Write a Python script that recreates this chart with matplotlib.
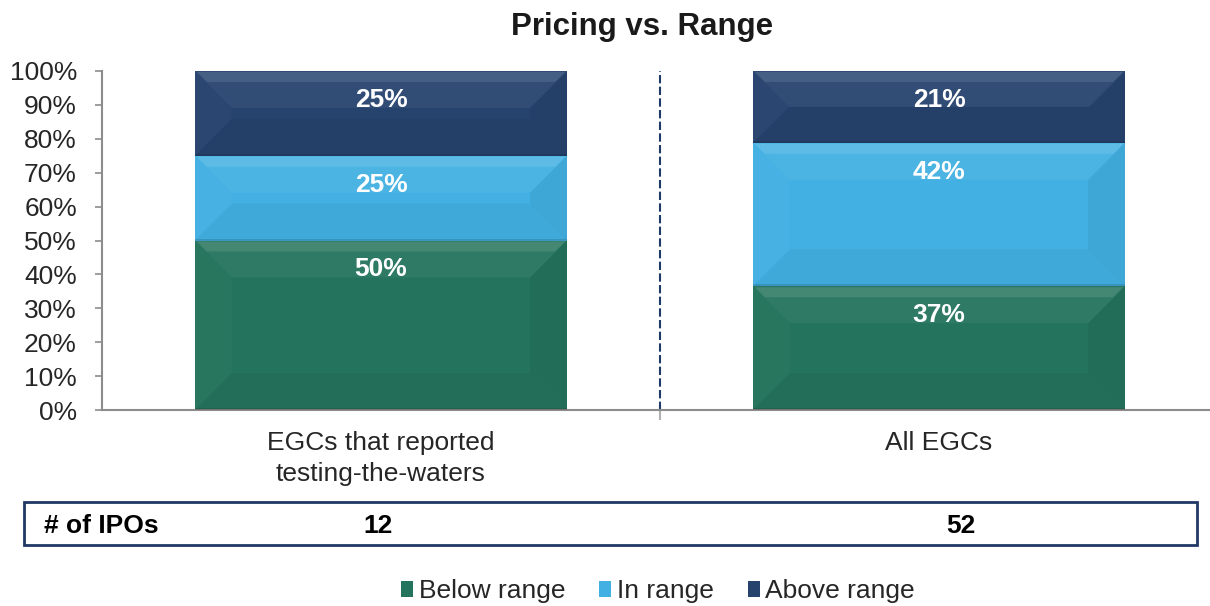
import matplotlib
matplotlib.use("Agg")
import matplotlib.pyplot as plt
from matplotlib.patches import Polygon, Rectangle
import numpy as np

plt.rcParams['font.family'] = ['Liberation Sans', 'DejaVu Sans']

# ---- data ----
categories = ["EGCs that reported\ntesting-the-waters", "All EGCs"]
series_names = ["Below range", "In range", "Above range"]
below_range = [50.0, 36.5]
in_range = [25.0, 42.3]
above_range = [25.0, 21.2]
n_ipos = [12, 52]
title = "Pricing vs. Range"
yticks = [0, 10, 20, 30, 40, 50, 60, 70, 80, 90, 100]

colors = ["#24735C", "#42B0E2", "#26436E"]

W, H, DPI = 1210, 606, 100
fig = plt.figure(figsize=(W / DPI, H / DPI), dpi=DPI)

ax_left, ax_right = 102, 1218
ax_top, ax_bot = 71, 410
ax = fig.add_axes([ax_left / W, 1 - ax_bot / H, (ax_right - ax_left) / W, (ax_bot - ax_top) / H])

x = np.arange(len(categories))
width = 0.667
series = [below_range, in_range, above_range]
bottoms = np.zeros(len(categories))
containers = []
for vals, col, name in zip(series, colors, series_names):
    bc = ax.bar(x, vals, width, bottom=bottoms, color=col, label=name, zorder=2, linewidth=0)
    containers.append((bc, vals, bottoms.copy()))
    bottoms = bottoms + np.array(vals)

ax.set_xlim(-0.5, 1.5)
ax.set_ylim(0, 100)

# spines / ticks
for s in ["top", "right"]:
    ax.spines[s].set_visible(False)
for s in ["left", "bottom"]:
    ax.spines[s].set_color("#8C8C8C")
    ax.spines[s].set_linewidth(1.5)
ax.set_yticks(yticks)
ax.set_yticklabels([f"{v}%" for v in yticks])
ax.tick_params(axis="y", direction="out", length=5, width=1.2, color="#8C8C8C",
               labelsize=19, labelcolor="#262626", pad=13)
ax.set_xticks(x)
ax.set_xticklabels(categories, fontsize=19, color="#262626", linespacing=1.39)
ax.tick_params(axis="x", length=0, pad=15)
ax.set_xticks([0.5], minor=True)
ax.tick_params(axis="x", which="minor", direction="out", length=7, width=1.5, color="#B0B0B0")

# dashed divider
ax.axvline(0.5, color="#1F3A68", linestyle=(0, (4, 1.6)), linewidth=1.5, zorder=1)

# bevel effect
fig.canvas.draw()
inv = ax.transData.inverted()
for bc, vals, bots in containers:
    for p in bc.patches:
        bb = p.get_window_extent()
        x0, y0, x1, y1 = bb.x0, bb.y0, bb.x1, bb.y1
        b = min(37, (y1 - y0) / 2.0)
        polys = [
            ([(x0, y1), (x1, y1), (x1 - b, y1 - b), (x0 + b, y1 - b)], "white", 0.05),
            ([(x0, y0), (x1, y0), (x1 - b, y0 + b), (x0 + b, y0 + b)], "black", 0.04),
            ([(x0, y0), (x0, y1), (x0 + b, y1 - b), (x0 + b, y0 + b)], "white", 0.025),
            ([(x1, y0), (x1, y1), (x1 - b, y1 - b), (x1 - b, y0 + b)], "black", 0.05),
        ]
        for pts, c, a in polys:
            dpts = inv.transform(pts)
            ax.add_patch(Polygon(dpts, closed=True, facecolor=c, alpha=a, linewidth=0, zorder=3))
        # highlight band at top
        hpts = inv.transform([(x0 + 2, y1 - 1), (x1 - 2, y1 - 1), (x1 - 12, y1 - 11), (x0 + 12, y1 - 11)])
        ax.add_patch(Polygon(hpts, closed=True, facecolor="white", alpha=0.10, linewidth=0, zorder=3))
        # dark edge line at bottom of segment
        epts = inv.transform([(x0, y0), (x1, y0), (x1, y0 + 2), (x0, y0 + 2)])
        ax.add_patch(Polygon(epts, closed=True, facecolor="black", alpha=0.12, linewidth=0, zorder=3))

# value labels near top of each segment
off = 29  # pixels below segment top
for bc, vals, bots in containers:
    for xi, v, b0 in zip(x, vals, bots):
        top_disp = ax.transData.transform((xi, b0 + v))
        ly = inv.transform((top_disp[0], top_disp[1] - off))[1]
        ax.text(xi, ly, f"{round(v + 1e-9):.0f}%", ha="center", va="center",
                fontsize=19, fontweight="bold", color="white", zorder=4)

# title
fig.text(642 / W, 1 - 27 / H, title, ha="center", va="center", fontsize=22.5,
         fontweight="bold", color="#1A1A1A")

# IPO table box
box_x0, box_x1, box_y0, box_y1 = 24, 1197, 502, 545
fig.add_artist(Rectangle((box_x0 / W, 1 - box_y1 / H), (box_x1 - box_x0) / W, (box_y1 - box_y0) / H,
                         transform=fig.transFigure, facecolor="none", edgecolor="#1F3864", linewidth=2))
row_y = 1 - 526 / H
fig.text(44 / W, row_y, "# of IPOs", ha="left", va="center", fontsize=19, fontweight="bold", color="#000000")
for xpos, n in zip([378, 961], n_ipos):
    fig.text(xpos / W, row_y, str(n), ha="center", va="center", fontsize=19, fontweight="bold", color="#000000")

# legend
handles = [c[0] for c in containers]
fig.legend(handles, series_names, loc="center", bbox_to_anchor=(658 / W, 1 - 591 / H), ncol=3,
           frameon=False, fontsize=19, handlelength=0.45, handleheight=0.55, handletextpad=0.2,
           columnspacing=1.3, labelcolor="#262626")

fig.savefig("out.png", dpi=DPI)
